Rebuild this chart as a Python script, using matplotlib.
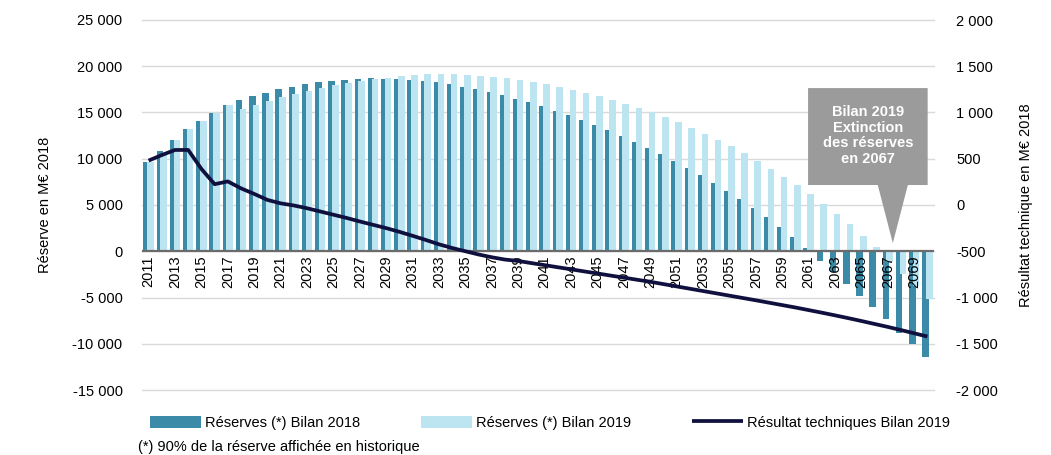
import numpy as np
import matplotlib
matplotlib.use("Agg")
import matplotlib.pyplot as plt
from matplotlib.patches import Polygon
from matplotlib.ticker import FuncFormatter

plt.rcParams['font.family'] = ['Liberation Sans', 'DejaVu Sans']

# donnees
years = np.arange(2011, 2071)
res_2018 = [9680, 10840, 12030, 13180, 14040, 14910, 15770, 16350, 16750, 17140,
            17500, 17790, 18040, 18260, 18400, 18550, 18620, 18690, 18660, 18620,
            18550, 18400, 18260, 18040, 17790, 17540, 17250, 16860, 16490, 16100,
            15670, 15190, 14730, 14190, 13650, 13070, 12500, 11850, 11200, 10480,
            9760, 9000, 8240, 7380, 6510, 5610, 4680, 3670, 2620, 1540,
            380, -1020, -2280, -3540, -4800, -6060, -7360, -8800, -10060, -11470]
res_2019 = [9700, 10510, 12030, 13180, 14040, 14910, 15770, 15340, 15810, 16240,
            16640, 17000, 17360, 17680, 17970, 18220, 18440, 18620, 18760, 18940,
            19050, 19130, 19160, 19130, 19050, 18980, 18840, 18690, 18510, 18300,
            18040, 17760, 17470, 17140, 16780, 16380, 15950, 15520, 15020, 14510,
            13940, 13360, 12710, 12030, 11340, 10590, 9760, 8930, 8060, 7160,
            6150, 5100, 4040, 2910, 1680, 420, -1130, -2460, -3760, -5200]
resultat_2019 = [480, 540, 595, 595, 390, 225, 255, 180, 120, 55,
                 18, -5, -35, -70, -105, -140, -178, -214, -250, -290,
                 -333, -378, -425, -465, -500, -535, -565, -590, -605, -628,
                 -650, -673, -695, -718, -740, -763, -785, -808, -830, -855,
                 -880, -905, -930, -955, -980, -1005, -1030, -1056, -1082, -1108,
                 -1136, -1164, -1193, -1223, -1254, -1286, -1318, -1352, -1387, -1422]

left_ticks = np.arange(-15000, 25001, 5000)
right_ticks = np.arange(-2000, 2001, 500)

c_dark = '#3A8AA8'
c_light = '#BDE5F1'
c_line = '#10103F'
c_grey = '#9B9B9B'


def fmt_milliers(v, pos=None):
    return f"{v:,.0f}".replace(",", " ")


fig = plt.figure(figsize=(10.51, 4.55), dpi=100)
ax = fig.add_axes([142 / 1051, 1 - 390 / 455, 792 / 1051, 370 / 455])

for t in left_ticks:
    ax.axhline(t, color='#D9D9D9', lw=1, zorder=0, clip_on=False)

ax.bar(years - 0.15, res_2018, width=0.5, color=c_dark, zorder=1,
       label='Réserves (*) Bilan 2018')
ax.bar(years + 0.15, res_2019, width=0.5, color=c_light, zorder=1.1,
       label='Réserves (*) Bilan 2019')
ax.axhline(0, color='#6B6B6B', lw=1.6, zorder=1.3)

ax.set_xlim(2010.5, 2070.5)
ax.set_ylim(-15000, 25000)
ax.set_yticks(left_ticks)
ax.yaxis.set_major_formatter(FuncFormatter(fmt_milliers))
ax.set_xticks(years[::2])
ax.xaxis.set_major_formatter(FuncFormatter(lambda v, p: f"{v:.0f}"))
ax.spines['bottom'].set_position(('data', 0))
for s in ['top', 'right', 'left', 'bottom']:
    ax.spines[s].set_visible(False)
ax.tick_params(axis='x', length=0, pad=3, labelsize=10.5, labelrotation=90)
ax.tick_params(axis='y', length=0, pad=14, labelsize=10.5)
ax.set_ylabel('Réserve en M€ 2018', fontsize=10.5, labelpad=15)

ax2 = ax.twinx()
ax2.plot(years, resultat_2019, color=c_line, lw=2.7, solid_capstyle='butt',
         label='Résultat techniques Bilan 2019')
ax2.set_ylim(-2000, 2000)
ax2.set_yticks(right_ticks)
ax2.yaxis.set_major_formatter(FuncFormatter(fmt_milliers))
for s in ['top', 'right', 'left', 'bottom']:
    ax2.spines[s].set_visible(False)
ax2.tick_params(axis='y', length=0, pad=16, labelsize=10.5)
ax2.set_ylabel('Résultat technique en M€ 2018', fontsize=10.5, labelpad=15)

# bulle d'annotation (coordonnees axes)
bulle = Polygon([(0.841, 0.816), (0.992, 0.816), (0.992, 0.554), (0.967, 0.554),
                 (0.948, 0.397), (0.929, 0.554), (0.841, 0.554)],
                closed=True, transform=ax2.transAxes, facecolor=c_grey,
                edgecolor='none', zorder=5)
ax2.add_patch(bulle)
ax2.text(0.9165, 0.688, 'Bilan 2019\nExtinction\ndes réserves\nen 2067',
         transform=ax2.transAxes, ha='center', va='center', color='white',
         fontsize=10.5, fontweight='bold', linespacing=1.15, zorder=6)

h1, l1 = ax.get_legend_handles_labels()
h2, l2 = ax2.get_legend_handles_labels()
fig.legend(h1 + h2, l1 + l2, loc='lower left',
           bbox_to_anchor=(150 / 1051, 1 - 430 / 455, 800 / 1051, 0.04),
           mode='expand', ncol=3, frameon=False, fontsize=10.5,
           handlelength=3.5, handleheight=0.9, handletextpad=0.3,
           borderaxespad=0, borderpad=0)

fig.text(138 / 1051, 1 - 447 / 455, "(*) 90% de la réserve affichée en historique",
         fontsize=10.5, va='center', ha='left')

fig.savefig('out.png', dpi=100)
